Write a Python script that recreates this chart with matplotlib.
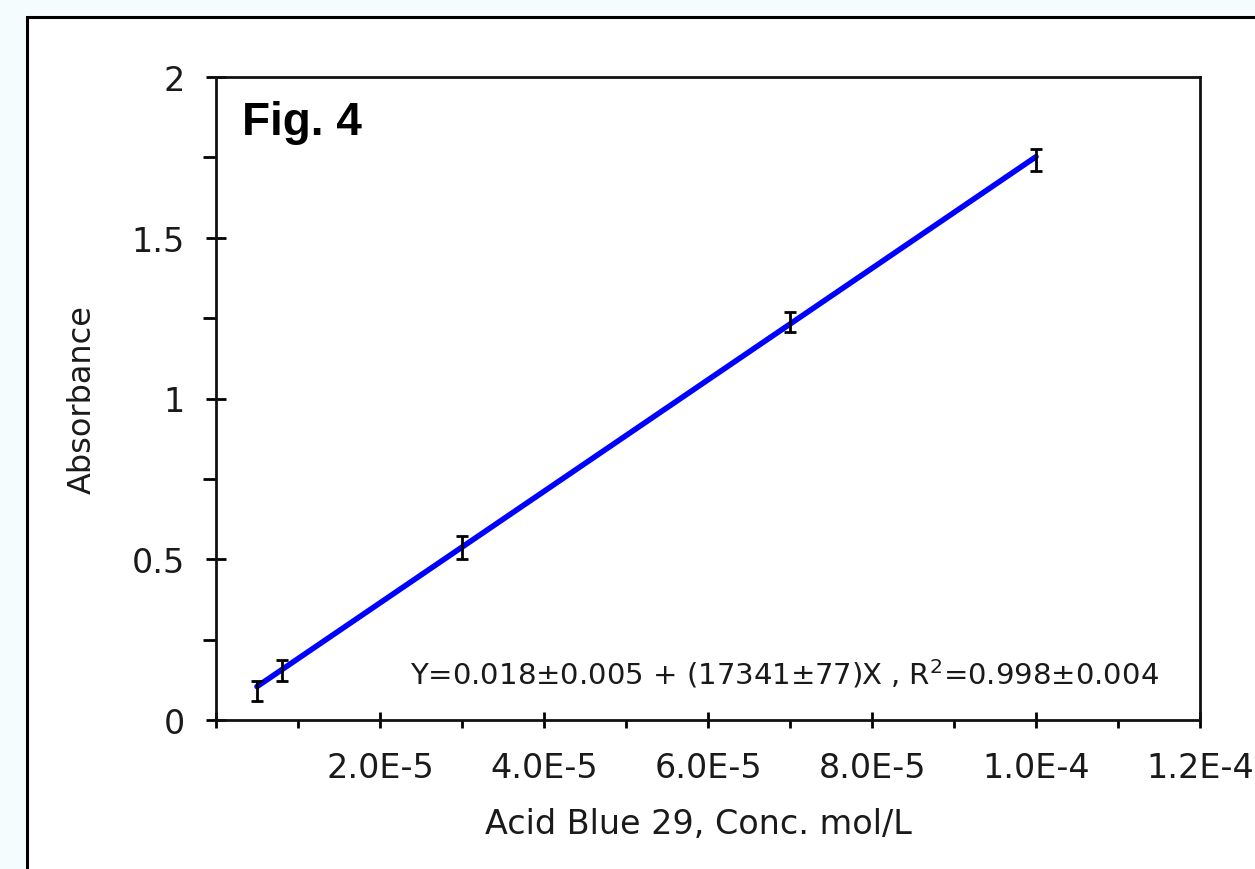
import numpy as np
import matplotlib.pyplot as plt
from matplotlib.patches import Rectangle
from matplotlib.ticker import FixedLocator, MultipleLocator

# pontos medidos (concentração mol/L x absorbância)
conc = np.array([5e-6, 8e-6, 3e-5, 7e-5, 1e-4])
absorb = np.array([0.090, 0.154, 0.537, 1.238, 1.742])
erro = np.array([0.031, 0.033, 0.036, 0.031, 0.034])

# reta ajustada (extremos)
fit_x = [5e-6, 1e-4]
fit_y = [0.104, 1.752]

xticks = [0, 2e-5, 4e-5, 6e-5, 8e-5, 1e-4, 1.2e-4]
xtick_labels = ['', '2.0E-5', '4.0E-5', '6.0E-5', '8.0E-5', '1.0E-4', '1.2E-4']
yticks = [0, 0.5, 1, 1.5, 2]
ytick_labels = ['0', '0.5', '1', '1.5', '2']

equacao = 'Y=0.018±0.005 + (17341±77)X , R$^2$=0.998±0.004'

plt.rcParams['font.family'] = ['DejaVu Sans']
plt.rcParams['mathtext.fontset'] = 'dejavusans'

W, H = 1255, 870
fig = plt.figure(figsize=(W / 100, H / 100), dpi=100, facecolor='#f5fcfd')

# painel branco com borda
fig.patches.append(Rectangle((27 / W, -0.2), 2, 1 - 18 / H + 0.2, transform=fig.transFigure,
                             facecolor='white', edgecolor='black', linewidth=2.2, zorder=-1))

ax = fig.add_axes([216 / W, 1 - 721 / H, (1200 - 216) / W, (721 - 78) / H])
ax.set_zorder(1)
ax.set_facecolor('white')

ax.plot(fit_x, fit_y, color='#0000ff', linewidth=4, zorder=2, solid_capstyle='round')
ax.errorbar(conc, absorb, yerr=erro, fmt='none', ecolor='black', elinewidth=2,
            capsize=4, capthick=2, zorder=3)

ax.set_xlim(0, 1.2e-4)
ax.set_ylim(0, 2)

ax.xaxis.set_major_locator(FixedLocator(xticks))
ax.set_xticklabels(xtick_labels)
ax.xaxis.set_minor_locator(FixedLocator([1e-5, 3e-5, 5e-5, 7e-5, 9e-5, 1.1e-4]))
ax.yaxis.set_major_locator(FixedLocator(yticks))
ax.set_yticklabels(ytick_labels)
ax.yaxis.set_minor_locator(MultipleLocator(0.25))

for s in ax.spines.values():
    s.set_linewidth(2)
    s.set_color('#111111')

ax.tick_params(axis='x', which='major', direction='inout', length=12, width=2,
               pad=16, labelsize=24, labelcolor='#1a1a1a')
ax.tick_params(axis='x', which='minor', direction='out', length=6, width=2)
ax.tick_params(axis='y', which='major', direction='inout', length=15, width=2,
               pad=15, labelsize=24, labelcolor='#1a1a1a')
ax.tick_params(axis='y', which='minor', direction='out', length=9.5, width=2)

ax.set_xlabel('Acid Blue 29, Conc. mol/L', fontsize=24, color='#1a1a1a')
ax.xaxis.set_label_coords(0.49, -0.135)
ax.set_ylabel('Absorbance', fontsize=23, color='#1a1a1a')
ax.yaxis.set_label_coords(-0.12, 0.5)

ax.text(0.197, 0.056, equacao, transform=ax.transAxes, fontsize=21,
        color='#1a1a1a', va='baseline', ha='left')
ax.text(0.026, 0.911, 'Fig. 4', transform=ax.transAxes, fontsize=33,
        fontweight='bold', family='Liberation Sans', va='baseline', ha='left')

fig.savefig('out.png', dpi=100, facecolor=fig.get_facecolor())
